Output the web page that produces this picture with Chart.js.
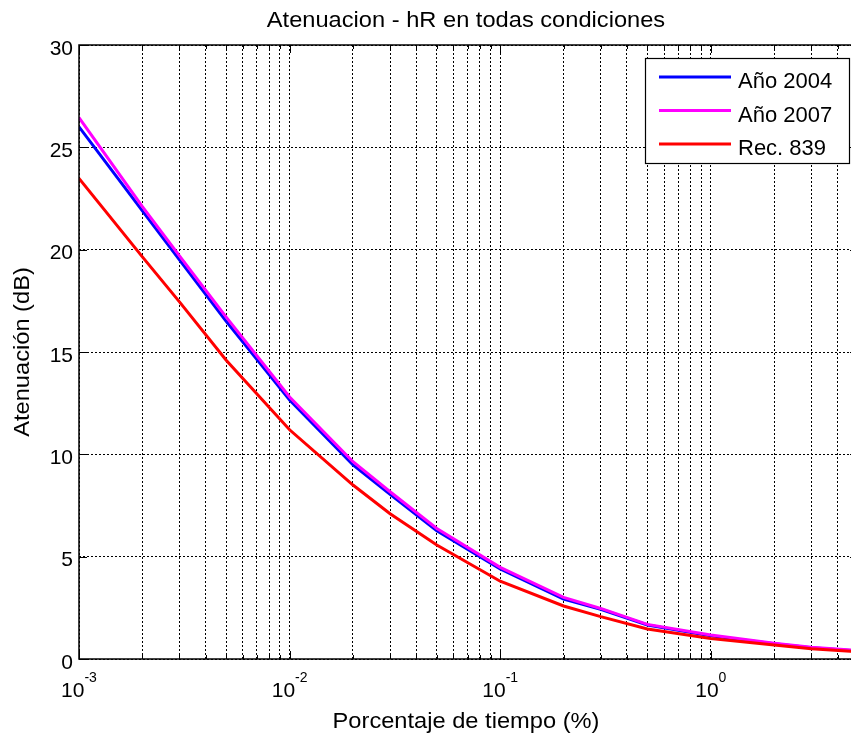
<!DOCTYPE html>
<html>
<head>
<meta charset="utf-8">
<script src="https://cdn.jsdelivr.net/npm/chart.js@4"></script>
<style>
  html, body { margin: 0; padding: 0; overflow: hidden; background: #fff; }
  canvas { display: block; }
</style>
</head>
<body>
<canvas id="chart" width="860" height="738"></canvas>
<script>
// percentage of time (x, log) and attenuation in dB (y)
const TIME_PCT   = [0.001, 0.002, 0.003, 0.005, 0.01, 0.02, 0.03, 0.05, 0.1, 0.2, 0.3, 0.5, 1, 2, 3, 5];
const ATT_2004   = [26.0, 21.9, 19.5, 16.5, 12.65, 9.48, 8.05, 6.27, 4.4, 2.93, 2.43, 1.66, 1.13, 0.74, 0.55, 0.39];
const ATT_2007   = [26.45, 22.1, 19.7, 16.7, 12.8, 9.64, 8.17, 6.38, 4.48, 3.01, 2.47, 1.69, 1.17, 0.77, 0.57, 0.41];
const ATT_REC839 = [23.48, 19.65, 17.45, 14.6, 11.2, 8.5, 7.1, 5.57, 3.8, 2.59, 2.07, 1.47, 1.0, 0.68, 0.5, 0.36];

const SERIES_LABELS = ['Año 2004', 'Año 2007', 'Rec. 839'];
const SERIES_COLORS = ['#0000ff', '#ff00ff', '#ff0000'];

const X_GRID = [
  0.001, 0.002, 0.003, 0.004, 0.005, 0.006, 0.007, 0.008, 0.009,
  0.01, 0.02, 0.03, 0.04, 0.05, 0.06, 0.07, 0.08, 0.09,
  0.1, 0.2, 0.3, 0.4, 0.5, 0.6, 0.7, 0.8, 0.9,
  1, 2, 3, 4, 5
];
const X_DECADES = [0.001, 0.01, 0.1, 1];
const X_EXPONENTS = ['-3', '-2', '-1', '0'];
const Y_TICKS = [0, 5, 10, 15, 20, 25, 30];

const TITLE = 'Atenuacion - hR en todas condiciones';
const X_TITLE = 'Porcentaje de tiempo (%)';
const Y_TITLE = 'Atenuación (dB)';

const FONT = '"Liberation Sans", Arial, sans-serif';

const seriesData = [ATT_2004, ATT_2007, ATT_REC839];

const datasets = seriesData.map((vals, i) => ({
  label: SERIES_LABELS[i],
  data: TIME_PCT.map((t, j) => ({ x: t, y: vals[j] })),
  borderColor: SERIES_COLORS[i],
  borderWidth: 3,
  pointRadius: 0,
  tension: 0,
  fill: false,
  order: 3 - i
}));

// text a bit wider than the stock font, like the original figure
function wideText(ctx, text, x, y, stretch) {
  ctx.save();
  ctx.translate(x, y);
  ctx.scale(stretch, 1);
  ctx.fillText(text, 0, 0);
  ctx.restore();
}

// axes box, inward ticks, labels and legend in the old matlab look
const matlabFrame = {
  id: 'matlabFrame',
  afterDatasetsDraw(chart) {
    const { ctx, chartArea: a, scales: { x, y } } = chart;
    ctx.save();

    ctx.strokeStyle = '#000';
    ctx.lineWidth = 1;
    ctx.beginPath();
    for (const v of X_GRID) {
      const px = Math.round(x.getPixelForValue(v)) + 0.5;
      const len = X_DECADES.includes(v) ? 8 : 4;
      ctx.moveTo(px, a.bottom); ctx.lineTo(px, a.bottom - len);
      ctx.moveTo(px, a.top); ctx.lineTo(px, a.top + len);
    }
    for (const v of Y_TICKS) {
      const py = Math.round(y.getPixelForValue(v)) + 0.5;
      ctx.moveTo(a.left, py); ctx.lineTo(a.left + 8, py);
      ctx.moveTo(a.right, py); ctx.lineTo(a.right - 8, py);
    }
    ctx.stroke();

    ctx.lineWidth = 1.5;
    ctx.strokeRect(a.left, a.top, a.right - a.left, a.bottom - a.top);

    ctx.fillStyle = '#000';
    ctx.textBaseline = 'alphabetic';

    // y tick labels
    ctx.font = '21px ' + FONT;
    ctx.textAlign = 'right';
    for (const v of Y_TICKS) {
      ctx.fillText(String(v), a.left - 6, y.getPixelForValue(v) + 9.5);
    }

    // x decade labels 10^n
    ctx.textAlign = 'left';
    X_DECADES.forEach((v, i) => {
      const px = x.getPixelForValue(v);
      ctx.font = '21px ' + FONT;
      const bw = ctx.measureText('10').width;
      ctx.font = '14px ' + FONT;
      const ew = ctx.measureText(X_EXPONENTS[i]).width;
      const start = px - (bw + ew) / 2;
      ctx.font = '21px ' + FONT;
      ctx.fillText('10', start, a.bottom + 38);
      ctx.font = '14px ' + FONT;
      ctx.fillText(X_EXPONENTS[i], start + bw, a.bottom + 23);
    });

    // titles
    ctx.font = '21.5px ' + FONT;
    ctx.textAlign = 'center';
    wideText(ctx, TITLE, 466, 27, 1.1);
    wideText(ctx, X_TITLE, 466, 728, 1.1);
    ctx.save();
    ctx.translate(29, (a.top + a.bottom) / 2);
    ctx.rotate(-Math.PI / 2);
    wideText(ctx, Y_TITLE, 0, 0, 1.1);
    ctx.restore();

    // legend
    const lx = 645.5, ly = 58.5, lw = 204, lh = 105;
    ctx.fillStyle = '#fff';
    ctx.fillRect(lx, ly, lw, lh);
    ctx.lineWidth = 1.2;
    ctx.strokeStyle = '#000';
    ctx.strokeRect(lx, ly, lw, lh);
    ctx.font = '22px ' + FONT;
    ctx.textAlign = 'left';
    chart.data.datasets.forEach((ds, i) => {
      const yy = 77 + i * 33.5;
      ctx.strokeStyle = ds.borderColor;
      ctx.lineWidth = 3;
      ctx.beginPath();
      ctx.moveTo(659, yy);
      ctx.lineTo(731, yy);
      ctx.stroke();
      ctx.fillStyle = '#000';
      ctx.fillText(ds.label, 738, yy + 11);
    });

    ctx.restore();
  }
};

const gridStyle = {
  color: '#000',
  lineWidth: 1,
  drawTicks: false
};

new Chart(document.getElementById('chart'), {
  type: 'line',
  data: { datasets },
  options: {
    responsive: false,
    animation: false,
    layout: { padding: { left: 79, top: 45, right: 2, bottom: 79 } },
    plugins: { legend: { display: false }, tooltip: { enabled: false }, title: { display: false } },
    scales: {
      x: {
        type: 'logarithmic',
        min: 0.001,
        max: 5,
        afterBuildTicks: (scale) => { scale.ticks = X_GRID.map(v => ({ value: v })); },
        ticks: { display: false },
        grid: gridStyle,
        border: { display: false, dash: [2, 2] }
      },
      y: {
        type: 'linear',
        min: 0,
        max: 30,
        afterBuildTicks: (scale) => { scale.ticks = Y_TICKS.map(v => ({ value: v })); },
        ticks: { display: false },
        grid: gridStyle,
        border: { display: false, dash: [2, 2] }
      }
    }
  },
  plugins: [matlabFrame]
});
</script>
</body>
</html>
